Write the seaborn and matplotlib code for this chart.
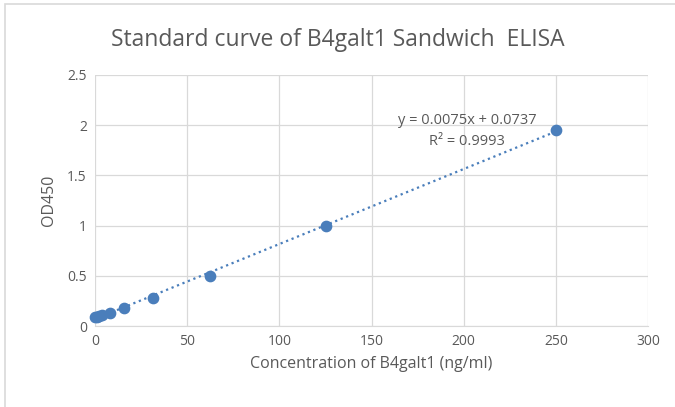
import numpy as np
import matplotlib.pyplot as plt
import seaborn as sns
from matplotlib.patches import Rectangle

# standard curve readings
conc = [0, 0.98, 1.95, 3.91, 7.81, 15.63, 31.25, 62.5, 125, 250]
od450 = [0.085, 0.09, 0.10, 0.11, 0.13, 0.18, 0.28, 0.50, 1.00, 1.95]
x_ticks = [0, 50, 100, 150, 200, 250, 300]
y_ticks = [0, 0.5, 1, 1.5, 2, 2.5]

sns.set_style("whitegrid")
plt.rcParams['font.family'] = ['Open Sans', 'DejaVu Sans']

txt = '#595959'
blue = '#4a7ebb'

fig = plt.figure(figsize=(6.75, 4.07), dpi=100)
ax = fig.add_axes([0.141, 0.199, 0.819, 0.617])

sns.regplot(x=conc, y=od450, ax=ax, ci=None,
            scatter_kws={'s': 55, 'color': blue, 'edgecolor': blue, 'alpha': 1, 'zorder': 3},
            line_kws={'color': blue, 'linestyle': ':', 'linewidth': 1.6})

ax.set_xlim(0, 300)
ax.set_ylim(0, 2.5)
ax.set_xticks(x_ticks)
ax.set_yticks(y_ticks)
ax.set_yticklabels(['0', '0.5', '1', '1.5', '2', '2.5'])
ax.tick_params(colors=txt, labelsize=10, length=0, pad=6)
ax.grid(color='#d9d9d9', linewidth=0.9)
for s in ['top', 'right', 'left']:
    ax.spines[s].set_visible(False)
ax.spines['bottom'].set_color('#d9d9d9')
for c in ax.collections:
    c.set_clip_on(False)

ax.set_xlabel('Concentration of B4galt1 (ng/ml)', color=txt, fontsize=11.5, labelpad=5)
ax.set_ylabel('OD450', color=txt, fontsize=11.5, labelpad=7)

ax.text(202, 2.05, 'y = 0.0075x + 0.0737', ha='center', va='center', color=txt, fontsize=10.5)
ax.text(202, 1.84, 'R² = 0.9993', ha='center', va='center', color=txt, fontsize=10.5)

fig.suptitle('Standard curve of B4galt1 Sandwich  ELISA', color=txt, fontsize=16.5, y=0.93)

fig.patches.append(Rectangle((5 / 675, -0.02), 1.0, 1.0 - 4 / 407 + 0.02,
                             transform=fig.transFigure, fill=False,
                             edgecolor='#d9d9d9', linewidth=1.2))

fig.savefig('out.png', dpi=100)
